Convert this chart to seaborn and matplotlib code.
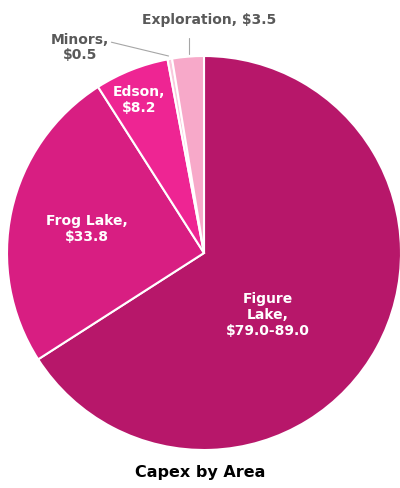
import matplotlib
matplotlib.use("Agg")
import matplotlib.pyplot as plt
import seaborn as sns
import numpy as np

sns.set_theme(style="white")
plt.rcParams['font.family'] = ['DejaVu Sans']

areas = ["Figure Lake", "Frog Lake", "Edson", "Minors", "Exploration"]
values = [89.0, 33.8, 8.2, 0.5, 3.5]
value_labels = ["$79.0-89.0", "$33.8", "$8.2", "$0.5", "$3.5"]
colors = ["#B7176A", "#D81E82", "#EE2593", "#F9C8DC", "#F7A9C9"]
title = "Capex by Area"

fig = plt.figure(figsize=(4.0, 4.89), dpi=100)
ax = fig.add_axes([7/400, (489-451)/489, 394/400, 394/489])
wedges, _ = ax.pie(values, colors=colors, startangle=90, counterclock=False,
                   wedgeprops=dict(edgecolor="white", linewidth=1.5))
ax.set_xlim(-1, 1)
ax.set_ylim(-1, 1)
ax.set_aspect("equal")
ax.axis("off")

fs = 10
# inside labels
ax.text(0.325, -0.31, f"Figure\nLake,\n{value_labels[0]}", ha="center", va="center",
        color="white", fontsize=fs, fontweight="bold", linespacing=1.2)
ax.text(-0.594, 0.127, f"Frog Lake,\n{value_labels[1]}", ha="center", va="center",
        color="white", fontsize=fs, fontweight="bold", linespacing=1.2)
ax.text(-0.33, 0.782, f"Edson,\n{value_labels[2]}", ha="center", va="center",
        color="white", fontsize=fs, fontweight="bold", linespacing=1.2)
# outside labels
ax.text(-0.63, 1.05, f"Minors,\n{value_labels[3]}", ha="center", va="center",
        color="#595959", fontsize=fs, fontweight="bold", linespacing=1.1, clip_on=False)
ax.plot([-0.47, -0.18], [1.07, 1.0], color="#A6A6A6", lw=0.8, clip_on=False)
ax.text(0.025, 1.19, f"Exploration, {value_labels[4]}", ha="center", va="center",
        color="#595959", fontsize=fs, fontweight="bold", clip_on=False)
ax.plot([-0.075, -0.075], [1.09, 1.01], color="#A6A6A6", lw=0.8, clip_on=False)

fig.text(0.5, 1 - 472/489, title, ha="center", va="center", fontsize=11.5,
         fontweight="bold", color="black")

fig.savefig("out.png", dpi=100)
